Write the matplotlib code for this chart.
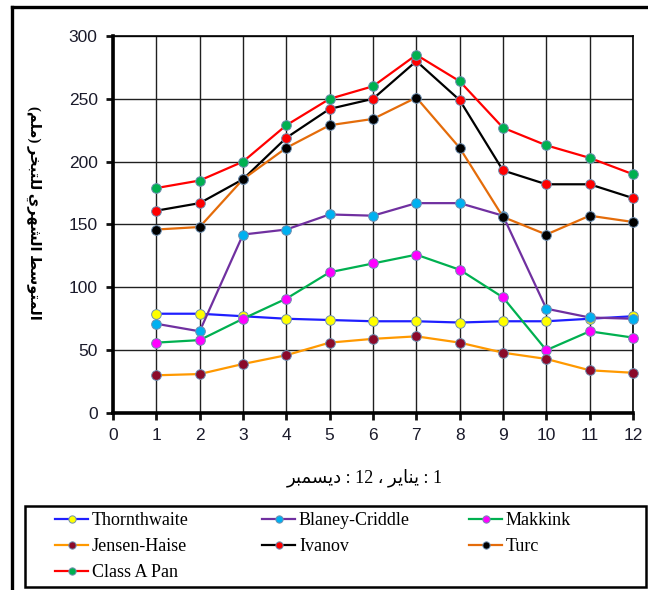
#!/usr/bin/env python3
"""Monthly evaporation by method, months 1-12."""

import matplotlib
matplotlib.use("Agg")
import matplotlib.pyplot as plt
from matplotlib.lines import Line2D
from matplotlib.patches import Rectangle

plt.rcParams.update({
    "font.family": ["Liberation Sans", "DejaVu Sans"],
    "font.size": 12.5,
})

# ── Data ──────────────────────────────────────────────────────────────────────
months = list(range(1, 13))

thornthwaite = [79, 79, 77, 75, 74, 73, 73, 72, 73, 73, 75, 77]
blaney       = [71, 65, 142, 146, 158, 157, 167, 167, 157, 83, 76, 75]
makkink      = [56, 58, 75, 91, 112, 119, 126, 114, 92, 50, 65, 60]
jensen       = [30, 31, 39, 46, 56, 59, 61, 56, 48, 43, 34, 32]
ivanov       = [161, 167, 186, 219, 242, 250, 280, 249, 193, 182, 182, 171]
turc         = [146, 148, 186, 211, 229, 234, 251, 211, 156, 142, 157, 152]
class_a_pan  = [179, 185, 200, 229, 250, 260, 285, 264, 227, 213, 203, 190]

x_ticks = list(range(0, 13))
y_ticks = [0, 50, 100, 150, 200, 250, 300]

# (label, values, line colour, marker colour)
series = [
    ("Thornthwaite",   thornthwaite, "#1f1fff", "#ffff00"),
    ("Blaney-Criddle", blaney,       "#7030a0", "#00b0f0"),
    ("Makkink",        makkink,      "#00b050", "#ff00ff"),
    ("Jensen-Haise",   jensen,       "#ff9900", "#8b0a2a"),
    ("Ivanov",         ivanov,       "#000000", "#ff0000"),
    ("Turc",           turc,         "#e46c0a", "#000000"),
    ("Class A Pan",    class_a_pan,  "#ff0000", "#00b050"),
]

# Arabic labels written in visual order with presentation forms
def ar(*cps):
    return "".join(chr(c) for c in cps)

y_label = ("(" + ar(0xFEE2, 0xFEE0, 0xFEE3) + ") "
           + ar(0xFEAE, 0xFEA8, 0xFE92, 0xFE98, 0xFEE0, 0xFEDF) + " "
           + ar(0xFEF1, 0xFEAE, 0xFEEC, 0xFEB8, 0xFEDF, 0xFE8D) + " "
           + ar(0xFEC2, 0xFEB3, 0xFEEE, 0xFE98, 0xFEE4, 0xFEDF, 0xFE8D))
x_label = (ar(0xFEAE, 0xFE92, 0xFEE4, 0xFEB4, 0xFEF3, 0xFEA9) + " : 12 \u060C "
           + ar(0xFEAE, 0xFEF3, 0xFE8E, 0xFEE8, 0xFEF3) + " : 1")

# ── Figure ────────────────────────────────────────────────────────────────────
W, H = 648, 590
fig = plt.figure(figsize=(W / 100, H / 100), dpi=100)
ax = fig.add_axes([113 / W, 1 - 413 / H, (633 - 113) / W, (413 - 36) / H])

lines = {}
for label, vals, lc, mc in series:
    ln, = ax.plot(months, vals, color=lc, lw=1.6, marker="o", ms=7,
                  mfc=mc, mec="#6f8fb0", mew=0.7, label=label, zorder=3,
                  clip_on=False)
    lines[label] = ln

ax.set_xlim(0, 12)
ax.set_ylim(0, 300)
ax.set_xticks(x_ticks)
ax.set_yticks(y_ticks)
ax.grid(True, color="#202020", lw=1.0)
ax.set_axisbelow(True)
for side in ["top", "right"]:
    ax.spines[side].set_linewidth(1.2)
for side in ["left", "bottom"]:
    ax.spines[side].set_linewidth(2.6)
ax.tick_params(direction="out", length=5, width=2, pad=6, colors="#111111",
               labelcolor="#1a1a2a", labelsize=12.5)

arab_font = ["Liberation Serif", "DejaVu Sans"]
fig.text(34 / W, 1 - 213 / H, y_label, rotation=270, ha="center", va="center",
         fontsize=10.5, fontweight="bold", family=arab_font)
fig.text(365 / W, 1 - 478 / H, x_label, ha="center", va="center",
         fontsize=13, family=arab_font)

# ── Outer frame and legend box ────────────────────────────────────────────────
fig.add_artist(Line2D([12 / W, 1], [1 - 7 / H, 1 - 7 / H], color="black", lw=2.4,
                      transform=fig.transFigure))
fig.add_artist(Line2D([12 / W, 12 / W], [0, 1 - 7 / H], color="black", lw=2.4,
                      transform=fig.transFigure))
fig.add_artist(Rectangle((25 / W, 1 - 587 / H), (646 - 25) / W, (587 - 506) / H,
                         fill=False, ec="black", lw=1.8, transform=fig.transFigure))

legend_cols = [
    (55,  ["Thornthwaite", "Jensen-Haise", "Class A Pan"]),
    (262, ["Blaney-Criddle", "Ivanov"]),
    (469, ["Makkink", "Turc"]),
]
for x0, labels in legend_cols:
    leg = fig.legend([lines[l] for l in labels], labels, loc="upper left",
                     bbox_to_anchor=(x0 / W, 1 - 512 / H), frameon=False,
                     borderpad=0, borderaxespad=0, handlelength=1.85,
                     handletextpad=0.2, labelspacing=0.5, markerscale=0.75,
                     prop={"family": "Liberation Serif", "size": 13})

fig.savefig("out.png", dpi=100)
